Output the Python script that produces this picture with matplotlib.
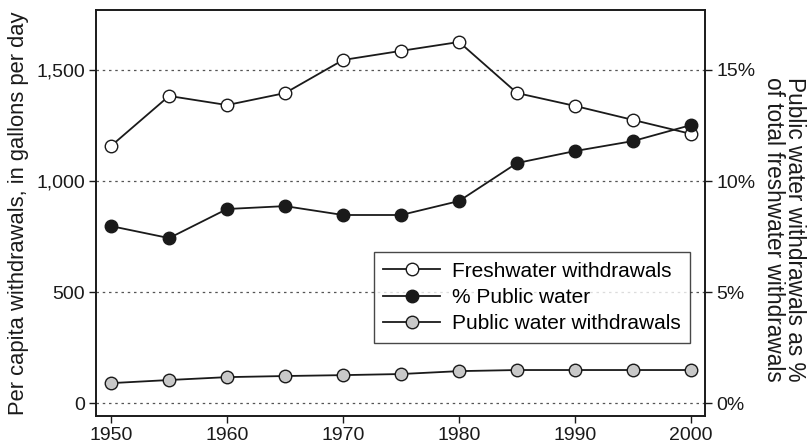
import numpy as np
import matplotlib.pyplot as plt

plt.rcParams['font.family'] = ['Liberation Sans', 'DejaVu Sans']

years = [1950, 1955, 1960, 1965, 1970, 1975, 1980, 1985, 1990, 1995, 2000]
freshwater = [1158, 1383, 1342, 1396, 1545, 1586, 1626, 1396, 1338, 1275, 1212]
pct_public = [7.97, 7.43, 8.74, 8.87, 8.47, 8.47, 9.10, 10.81, 11.35, 11.80, 12.52]
public_withdrawals = [90, 104, 117, 122, 126, 131, 144, 149, 149, 149, 149]

fig = plt.figure(figsize=(8.11, 4.47), dpi=100)
ax = fig.add_axes([96 / 811, 31 / 447, 609 / 811, 406 / 447])
ax2 = ax.twinx()

for y in [0, 500, 1000, 1500]:
    ax.axhline(y, color='#555555', lw=0.9, ls=(0, (2, 3)), zorder=0)

mk = dict(marker='o', markersize=9, markeredgecolor='#1a1a1a', markeredgewidth=1.0,
          color='#1a1a1a', lw=1.3)
l1, = ax.plot(years, freshwater, markerfacecolor='white', label='Freshwater withdrawals', **mk)
l2, = ax2.plot(years, pct_public, markerfacecolor='#1a1a1a', label='% Public water', **mk)
l3, = ax.plot(years, public_withdrawals, markerfacecolor='#c8c8c8', label='Public water withdrawals', **mk)

ax.set_xlim(1948.7, 2001.2)
ax.set_ylim(-58, 1770)
ax2.set_ylim(-0.58, 17.70)
ax.set_xticks([1950, 1960, 1970, 1980, 1990, 2000])
ax.set_yticks([0, 500, 1000, 1500])
ax.set_yticklabels(['0', '500', '1,000', '1,500'])
ax2.set_yticks([0, 5, 10, 15])
ax2.set_yticklabels(['0%', '5%', '10%', '15%'])

for a in (ax, ax2):
    a.tick_params(labelsize=14, length=5, width=1, color='#1a1a1a', labelcolor='#1a1a1a', pad=3)
    for s in a.spines.values():
        s.set_linewidth(1.2)
        s.set_color('#1a1a1a')

ax.set_ylabel('Per capita withdrawals, in gallons per day', fontsize=15.8, color='#1a1a1a', labelpad=5)
ax2.set_ylabel('Public water withdrawals as %\nof total freshwater withdrawals', fontsize=16.3,
               color='#1a1a1a', rotation=270, labelpad=40, linespacing=0.92)
ax2.yaxis.set_label_coords(1.166, 0.46)

leg = ax2.legend(handles=[l1, l2, l3], loc='lower right', bbox_to_anchor=(0.993, 0.155),
                 fontsize=15, frameon=True, fancybox=False, edgecolor='#1a1a1a',
                 handlelength=2.7, handletextpad=0.6, borderpad=0.45, labelspacing=0.35)
leg.get_frame().set_linewidth(1.0)

fig.savefig('out.png', dpi=100)
